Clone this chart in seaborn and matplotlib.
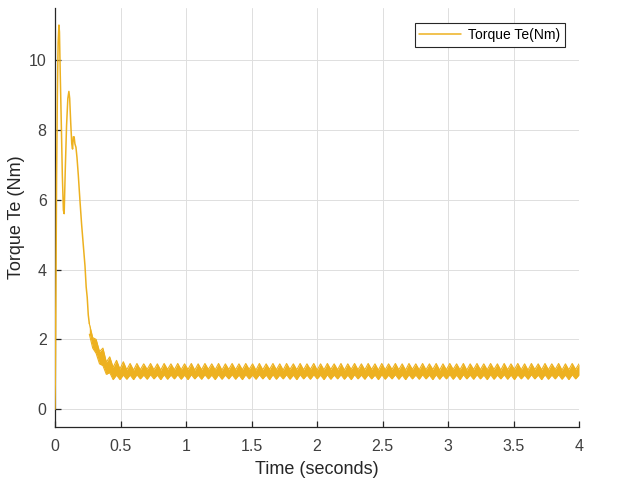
import numpy as np
import pandas as pd
import matplotlib
matplotlib.use("Agg")
import matplotlib.pyplot as plt
import seaborn as sns

# ---------------- data ----------------
# start-up transient (thin line)
t_start = [0.000, 0.004, 0.008, 0.012, 0.018, 0.024, 0.030, 0.034, 0.040, 0.048,
           0.056, 0.064, 0.070, 0.078, 0.088, 0.098, 0.106, 0.112, 0.120, 0.128,
           0.134, 0.140, 0.146, 0.152, 0.160, 0.168, 0.178, 0.190, 0.203, 0.216,
           0.229, 0.238, 0.246, 0.254, 0.262]
te_start = [0.0, 1.6, 4.0, 6.6, 9.0, 10.5, 11.0, 10.8, 9.6, 8.2,
            6.7, 5.7, 5.6, 6.8, 8.1, 8.9, 9.1, 8.9, 8.2, 7.6,
            7.45, 7.8, 7.8, 7.6, 7.5, 7.2, 6.7, 6.0, 5.3, 4.7,
            4.1, 3.5, 3.2, 2.7, 2.45]

# ripple band: upper / lower envelope sampled every half ripple period
env_t0 = 0.262
env_t1 = 4.0
upper_env = [
    2.45, 2.05, 2.00, 1.65, 1.75, 1.35, 1.50, 1.20, 1.40, 1.15,
    1.36, 1.13, 1.31, 1.12, 1.31, 1.13, 1.30, 1.14, 1.31, 1.13,
    1.30, 1.12, 1.31, 1.14, 1.30, 1.13, 1.31, 1.13, 1.30, 1.14,
    1.31, 1.12, 1.30, 1.13, 1.31, 1.14, 1.30, 1.13, 1.31, 1.12,
    1.30, 1.14, 1.31, 1.13, 1.30, 1.13, 1.31, 1.14, 1.30, 1.12,
    1.31, 1.13, 1.30, 1.14, 1.31, 1.13, 1.30, 1.12, 1.31, 1.14,
    1.30, 1.13, 1.31, 1.13, 1.30, 1.14, 1.31, 1.12, 1.30, 1.13,
    1.31, 1.14, 1.30, 1.13, 1.31, 1.12, 1.30, 1.14, 1.31, 1.13,
    1.30, 1.13, 1.31, 1.14, 1.30, 1.12, 1.31, 1.13, 1.30, 1.14,
    1.31, 1.13, 1.30, 1.12, 1.31, 1.14, 1.30, 1.13, 1.31, 1.13,
    1.30, 1.14, 1.31, 1.12, 1.30, 1.13, 1.31, 1.14, 1.30, 1.13,
    1.31, 1.12, 1.30, 1.14, 1.31, 1.13, 1.30, 1.13, 1.31, 1.14,
    1.30, 1.12, 1.31, 1.13, 1.30, 1.14, 1.31, 1.13, 1.30, 1.12,
    1.31, 1.14, 1.30, 1.13, 1.31, 1.13, 1.30, 1.14, 1.31, 1.12,
    1.30, 1.13, 1.31, 1.14, 1.30,
]
lower_env = [
    2.15, 1.75, 1.60, 1.30, 1.25, 1.00, 1.05, 0.85, 0.98, 0.85,
    0.98, 0.86, 0.98, 0.85, 0.99, 0.87, 0.98, 0.86, 0.99, 0.87,
    0.98, 0.85, 0.99, 0.86, 0.98, 0.87, 0.99, 0.86, 0.98, 0.85,
    0.99, 0.87, 0.98, 0.86, 0.99, 0.87, 0.98, 0.85, 0.99, 0.86,
    0.98, 0.87, 0.99, 0.86, 0.98, 0.85, 0.99, 0.87, 0.98, 0.86,
    0.99, 0.87, 0.98, 0.85, 0.99, 0.86, 0.98, 0.87, 0.99, 0.86,
    0.98, 0.85, 0.99, 0.87, 0.98, 0.86, 0.99, 0.87, 0.98, 0.85,
    0.99, 0.86, 0.98, 0.87, 0.99, 0.86, 0.98, 0.85, 0.99, 0.87,
    0.98, 0.86, 0.99, 0.87, 0.98, 0.85, 0.99, 0.86, 0.98, 0.87,
    0.99, 0.86, 0.98, 0.85, 0.99, 0.87, 0.98, 0.86, 0.99, 0.87,
    0.98, 0.85, 0.99, 0.86, 0.98, 0.87, 0.99, 0.86, 0.98, 0.85,
    0.99, 0.87, 0.98, 0.86, 0.99, 0.87, 0.98, 0.85, 0.99, 0.86,
    0.98, 0.87, 0.99, 0.86, 0.98, 0.85, 0.99, 0.87, 0.98, 0.86,
    0.99, 0.87, 0.98, 0.85, 0.99, 0.86, 0.98, 0.87, 0.99, 0.86,
    0.98, 0.85, 0.99, 0.87, 0.98,
]

x_ticks = [0, 0.5, 1, 1.5, 2, 2.5, 3, 3.5, 4]
x_tick_labels = ["0", "0.5", "1", "1.5", "2", "2.5", "3", "3.5", "4"]
y_ticks = [0, 2, 4, 6, 8, 10]
y_tick_labels = ["0", "2", "4", "6", "8", "10"]

series_label = "Torque Te(Nm)"
x_label = "Time (seconds)"
y_label = "Torque Te (Nm)"

# ---------------- drawing ----------------
sns.set_theme(style="white")
plt.rcParams["font.family"] = ["Liberation Sans", "DejaVu Sans"]

COLOR = "#EDB120"
TXT = "#262626"

fig = plt.figure(figsize=(6.31, 4.82), dpi=100)
ax_h = 426.7 - 7.6
ax = fig.add_axes([55 / 631, (482 - 426.7) / 482, 524 / 631, ax_h / 482])

df_start = pd.DataFrame({"t": t_start, "Te": te_start})
env_t = np.linspace(env_t0, env_t1, len(upper_env))
df_env = pd.DataFrame({"t": env_t, "upper": upper_env, "lower": lower_env})

ax.fill_between(df_env["t"], df_env["lower"], df_env["upper"],
                color=COLOR, linewidth=0, zorder=3)
sns.lineplot(data=df_env, x="t", y="upper", ax=ax, color=COLOR,
             linewidth=0.8, estimator=None, sort=False, zorder=3)
sns.lineplot(data=df_env, x="t", y="lower", ax=ax, color=COLOR,
             linewidth=0.8, estimator=None, sort=False, zorder=3)
sns.lineplot(data=df_start, x="t", y="Te", ax=ax, color=COLOR,
             linewidth=1.1, estimator=None, sort=False, zorder=4,
             label=series_label)

ax.set_xlim(0, 4)
ax.set_ylim(-0.5, 11.5)
ax.set_xticks(x_ticks)
ax.set_xticklabels(x_tick_labels)
ax.set_yticks(y_ticks)
ax.set_yticklabels(y_tick_labels)

ax.grid(True, color="#dedede", linewidth=0.7)
ax.set_axisbelow(True)
for s in ["top", "right"]:
    ax.spines[s].set_visible(False)
for s in ["left", "bottom"]:
    ax.spines[s].set_color(TXT)
    ax.spines[s].set_linewidth(0.9)

ax.tick_params(axis="both", direction="in", length=4, width=0.9,
               colors=TXT, labelsize=11.5, labelcolor="#404040")
ax.tick_params(axis="x", pad=9, bottom=True)
ax.tick_params(axis="y", pad=6, left=True)

ax.set_xlabel(x_label, fontsize=13, color=TXT, labelpad=5)
ax.set_ylabel(y_label, fontsize=13, color=TXT)
ax.yaxis.set_label_coords((25 - 55) / 524, (426.7 - 217) / ax_h)

leg = ax.legend(loc="upper right", bbox_to_anchor=(565 / 631, (482 - 23) / 482),
                bbox_transform=fig.transFigure, fontsize=10, frameon=True,
                fancybox=False, edgecolor="#262626", framealpha=1,
                handlelength=3.0, borderpad=0.35, handletextpad=0.5,
                borderaxespad=0)
leg.get_frame().set_linewidth(0.8)
for txt in leg.get_texts():
    txt.set_color("#000000")

fig.savefig("out.png", dpi=100)
